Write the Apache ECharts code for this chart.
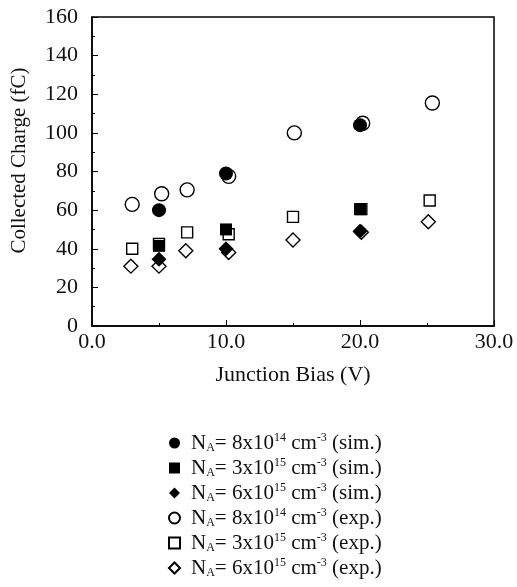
<!DOCTYPE html>
<html>
<head>
<meta charset="utf-8">
<script src="https://cdn.jsdelivr.net/npm/echarts@6/dist/echarts.min.js"></script>
<style>
  html, body { margin: 0; padding: 0; background: #fff; }
  #chart { width: 517px; height: 587px; }
</style>
</head>
<body>
<div id="chart"></div>
<script>
// junction bias (V), collected charge (fC)
const simCircle = [[5, 60], [10, 79], [20, 104]]
const simSquare = [[5, 41.5], [10, 50], [20, 60.5]]
const simDiamond = [[5, 34.5], [10, 40], [20, 49]]
const expCircle = [[3, 63], [5.2, 68.5], [7.1, 70.5], [10.2, 77.5], [15.1, 100], [20.2, 105], [25.4, 115.5]]
const expSquare = [[3, 40], [5, 42.5], [7.1, 48.5], [10.2, 47.5], [15, 56.5], [20.1, 60.5], [25.2, 65]]
const expDiamond = [[2.9, 31], [5, 31], [7, 39], [10.2, 38], [15, 44.5], [20.1, 48.5], [25.1, 54]]

const seriesNames = ['sim8e14', 'sim3e15', 'sim6e15', 'exp8e14', 'exp3e15', 'exp6e15']
// legend text parts: mantissa, exponent, kind
const legendParts = {
  sim8e14: ['8', '14', 'sim.'],
  sim3e15: ['3', '15', 'sim.'],
  sim6e15: ['6', '15', 'sim.'],
  exp8e14: ['8', '14', 'exp.'],
  exp3e15: ['3', '15', 'exp.'],
  exp6e15: ['6', '15', 'exp.'],
}

const font = 'Liberation Serif'
const chart = echarts.init(document.getElementById('chart'))

function scatter(name, data, symbol, size, filled, z) {
  return {
    name,
    type: 'scatter',
    data,
    symbol,
    symbolSize: size,
    z,
    itemStyle: {
      color: filled ? '#000' : '#fff',
      borderColor: '#000',
      borderWidth: filled ? 0 : 1.4,
      opacity: 1,
    },
    emphasis: { disabled: true },
  }
}

chart.setOption({
  animation: false,
  backgroundColor: '#fff',
  grid: {
    left: 92,
    right: 23,
    top: 17,
    bottom: 261,
    outerBoundsMode: 'none',
    show: true,
    borderColor: '#000',
    borderWidth: 1.5,
  },
  xAxis: {
    type: 'value',
    min: 0,
    max: 30,
    interval: 10,
    name: 'Junction Bias (V)',
    nameLocation: 'middle',
    nameGap: 38,
    nameTextStyle: { fontFamily: font, fontSize: 22, color: '#111' },
    axisLine: { lineStyle: { color: '#000', width: 1.5 } },
    axisTick: { inside: true, length: 6, lineStyle: { color: '#000' } },
    minorTick: { show: true, splitNumber: 2, length: 3, lineStyle: { color: '#000' } },
    splitLine: { show: false },
    axisLabel: {
      fontFamily: font,
      fontSize: 22,
      color: '#111',
      margin: 5,
      formatter: v => v.toFixed(1),
    },
  },
  yAxis: {
    type: 'value',
    min: 0,
    max: 160,
    interval: 20,
    name: 'Collected Charge (fC)',
    nameLocation: 'middle',
    nameGap: 62,
    nameTextStyle: { fontFamily: font, fontSize: 21, color: '#111', padding: [0, 0, 0, 22] },
    axisLine: { lineStyle: { color: '#000', width: 1.5 } },
    axisTick: { inside: true, length: 6, lineStyle: { color: '#000' } },
    minorTick: { show: true, splitNumber: 2, length: 3, lineStyle: { color: '#000' } },
    splitLine: { show: false },
    axisLabel: { fontFamily: font, fontSize: 22, color: '#111', margin: 14 },
  },
  legend: {
    orient: 'vertical',
    left: 163,
    top: 427,
    itemGap: 3,
    itemWidth: 11,
    itemHeight: 11,
    data: seriesNames,
    selectedMode: false,
    formatter: name => {
      const [m, e, k] = legendParts[name]
      return `{n|N}{sub|A}{n|= ${m}x10}{sup|${e}}{n| cm}{sup|-3}{n| (${k})}`
    },
    textStyle: {
      fontFamily: font,
      color: '#111',
      padding: [0, 0, 0, 6],
      rich: {
        n: { fontFamily: font, fontSize: 21, color: '#111', lineHeight: 22 },
        sub: { fontFamily: font, fontSize: 12, color: '#111', lineHeight: 10, verticalAlign: 'bottom' },
        sup: { fontFamily: font, fontSize: 12, color: '#111', lineHeight: 10, verticalAlign: 'top' },
      },
    },
  },
  series: [
    scatter('exp8e14', expCircle, 'circle', 14, false, 2),
    scatter('exp3e15', expSquare, 'rect', 11, false, 2),
    scatter('exp6e15', expDiamond, 'diamond', 14, false, 2),
    scatter('sim8e14', simCircle, 'circle', 14, true, 3),
    scatter('sim3e15', simSquare, 'rect', 12, true, 3),
    scatter('sim6e15', simDiamond, 'diamond', 15, true, 3),
  ],
})
</script>
</body>
</html>
